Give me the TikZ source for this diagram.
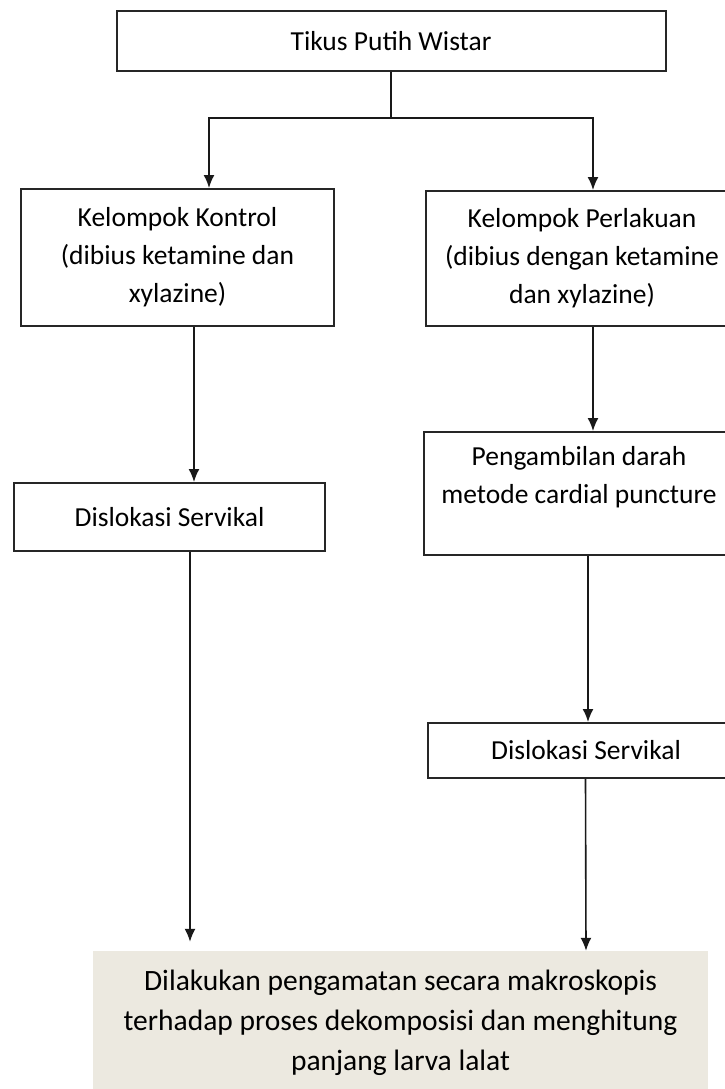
\documentclass[tikz,border=0pt]{standalone}
\usepackage{fontspec}
\setmainfont{Carlito}
\usetikzlibrary{arrows.meta}
\definecolor{hasilbg}{RGB}{236,233,224}
\tikzset{
  >={Latex[length=13pt,width=11pt]},
}
\tikzstyle{box}=[draw=black!85,line width=2pt,inner sep=0pt,align=center,font=\fontsize{27.5}{38}\selectfont]
\tikzstyle{hasil}=[fill=hasilbg,inner sep=0pt,align=center,font=\fontsize{29.5}{40}\selectfont]
\tikzstyle{link}=[line width=1.6pt,black!90,->]

\begin{document}
\begin{tikzpicture}[x=1pt,y=-1pt]
    \useasboundingbox (0,0) rectangle (725,1089);
    \node[box,minimum width=549pt,minimum height=60pt] (tikus) at (391,41) {Tikus Putih Wistar};
    \node[box,minimum width=313pt,minimum height=137pt] (kontrol) at (177.5,257.5)
    {Kelompok Kontrol\\(dibius ketamine dan\\xylazine)};
    \node[box,minimum width=312pt,minimum height=135pt] (perlakuan) at (582,258.5)
    {Kelompok Perlakuan\\(dibius dengan ketamine\\dan xylazine)};
    \node[box,minimum width=311pt,minimum height=68pt] (disa) at (169.5,517) {Dislokasi Servikal};
    \node[box,minimum width=310pt,minimum height=123pt] (ambil) at (579,493.5)
    {Pengambilan darah\\metode cardial puncture\\~};
    \node[box,minimum width=316pt,minimum height=55pt] (disb) at (586,750.5) {Dislokasi Servikal};
    \node[hasil,minimum width=615pt,minimum height=144pt] (akhir) at (400.5,1023)
    {Dilakukan pengamatan secara makroskopis\\terhadap proses dekomposisi dan menghitung\\panjang larva lalat};
    \coordinate (cabang) at ([yshift=-46pt]tikus.south);
    \draw[line width=1.6pt,black!90] (tikus.south) -- (cabang);
    \draw[link] (cabang) -| ([xshift=31.5pt]kontrol.north);
    \draw[link] (cabang) -| ([xshift=11pt]perlakuan.north);
    \draw[link] ([xshift=16.5pt]kontrol.south) -- ([xshift=24.5pt]disa.north);
    \draw[link] ([xshift=11pt]perlakuan.south) -- ([xshift=14pt]ambil.north);
    \draw[link] ([xshift=9pt]ambil.south) -- ([xshift=2pt]disb.north);
    \draw[link] ([xshift=20.5pt]disa.south) -- ([xshift=-210.5pt,yshift=9pt]akhir.north);
    \draw[link] ([xshift=-0.5pt]disb.south) -- ([xshift=185.5pt]akhir.north);
\end{tikzpicture}
\end{document}
